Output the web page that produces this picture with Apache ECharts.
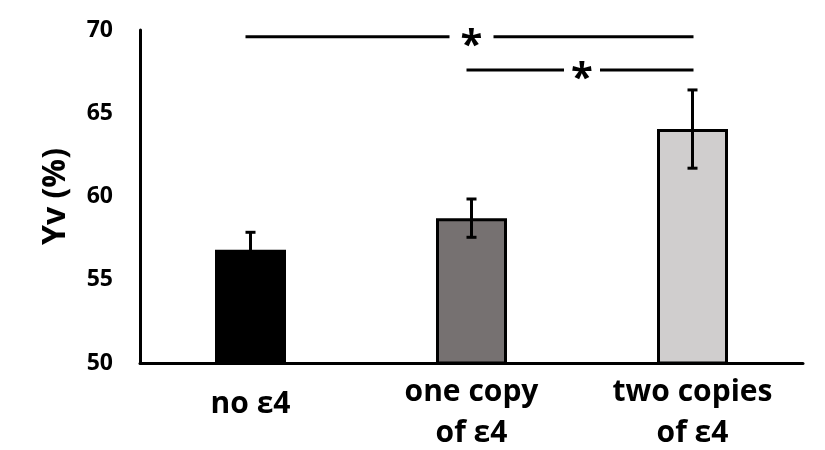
<!DOCTYPE html>
<html>
<head>
<meta charset="utf-8">
<script src="https://cdn.jsdelivr.net/npm/echarts@6/dist/echarts.min.js"></script>
<style>html,body{margin:0;padding:0;background:#fff;}#c{width:825px;height:450px;}</style>
</head>
<body>
<div id="c"></div>
<script>
const categories = ['no ε4', 'one copy\nof ε4', 'two copies\nof ε4'];
const means = [56.8, 58.7, 64.05];
const errors = [1.05, 1.15, 2.35];
const barColors = ['#000000', '#767171', '#d0cece'];
const yTicks = [50, 55, 60, 65, 70];
// significance brackets: [from category index, to category index, y value, label]
const sigFrom = [0, 1];
const sigTo = [2, 2];
const sigY = [69.6, 67.6];
const sigLabel = ['*', '*'];

const FONT = '"Open Sans", "Noto Sans", sans-serif';
const chart = echarts.init(document.getElementById('c'));

const barData = means.map((v, i) => ({
  value: v,
  itemStyle: { color: barColors[i], borderColor: '#000', borderWidth: 3 }
}));
const errData = means.map((v, i) => [i, v, errors[i]]);
const sigData = sigFrom.map((f, i) => [f, sigTo[i], sigY[i], sigLabel[i]]);

chart.setOption({
  animation: false,
  backgroundColor: '#fff',
  grid: { left: 140, right: 22, top: 30, bottom: 87, outerBoundsMode: 'none', containLabel: false },
  xAxis: {
    type: 'category',
    data: categories,
    axisLine: { lineStyle: { color: '#000', width: 3 } },
    axisTick: { show: false },
    axisLabel: {
      color: '#000', fontFamily: FONT, fontWeight: 'bold', fontSize: 30,
      lineHeight: 41, margin: 50, verticalAlign: 'middle', interval: 0,
      formatter: function (v) {
        const lines = v.split('\n');
        if (lines.length === 1) return '{s|' + v + '}';
        return lines.map(l => '{m|' + l + '}').join('\n');
      },
      rich: {
        s: { fontFamily: FONT, fontWeight: 'bold', fontSize: 30, lineHeight: 41, padding: [0, 0, 18, 0], color: '#000' },
        m: { fontFamily: FONT, fontWeight: 'bold', fontSize: 30, lineHeight: 41, color: '#000' }
      }
    }
  },
  yAxis: {
    type: 'value',
    min: yTicks[0], max: yTicks[yTicks.length - 1], interval: 5,
    name: 'Yv (%)',
    nameLocation: 'middle',
    nameGap: 68,
    nameTextStyle: { color: '#000', fontFamily: FONT, fontWeight: 'bold', fontSize: 32 },
    axisLine: { show: true, lineStyle: { color: '#000', width: 3 } },
    axisTick: { show: false },
    splitLine: { show: false },
    axisLabel: { color: '#000', fontFamily: FONT, fontWeight: 'bold', fontSize: 23, margin: 27 }
  },
  series: [
    {
      type: 'bar',
      data: barData,
      barWidth: 71,
      z: 2
    },
    {
      type: 'custom',
      data: errData,
      z: 5,
      encode: { x: 0, y: 1 },
      renderItem: function (params, api) {
        const x = api.value(0), m = api.value(1), e = api.value(2);
        const top = api.coord([x, m + e]);
        const bot = api.coord([x, m - e]);
        const hw = 5;
        const style = { stroke: '#000', lineWidth: 3 };
        return {
          type: 'group',
          children: [
            { type: 'line', shape: { x1: top[0], y1: top[1], x2: bot[0], y2: bot[1] }, style: style },
            { type: 'line', shape: { x1: top[0] - hw, y1: top[1], x2: top[0] + hw, y2: top[1] }, style: style },
            { type: 'line', shape: { x1: bot[0] - hw, y1: bot[1], x2: bot[0] + hw, y2: bot[1] }, style: style }
          ]
        };
      }
    },
    {
      type: 'custom',
      data: sigData,
      z: 6,
      encode: { x: [0, 1], y: 2 },
      renderItem: function (params, api) {
        const a = api.coord([api.value(0), api.value(2)]);
        const b = api.coord([api.value(1), api.value(2)]);
        const mid = (a[0] + b[0]) / 2;
        const gap = params.dataIndex === 0 ? 22 : 18;
        const style = { stroke: '#000', lineWidth: 3 };
        return {
          type: 'group',
          children: [
            { type: 'line', shape: { x1: a[0] - 5, y1: a[1], x2: mid - gap, y2: a[1] }, style: style },
            { type: 'line', shape: { x1: mid + gap, y1: a[1], x2: b[0] + 1, y2: a[1] }, style: style },
            { type: 'text', x: mid, y: a[1] + 10, style: {
                text: sigData[params.dataIndex][3], fill: '#000',
                font: 'bold 40px ' + FONT, textAlign: 'center', textVerticalAlign: 'middle'
            } }
          ]
        };
      }
    }
  ]
});
</script>
</body>
</html>
